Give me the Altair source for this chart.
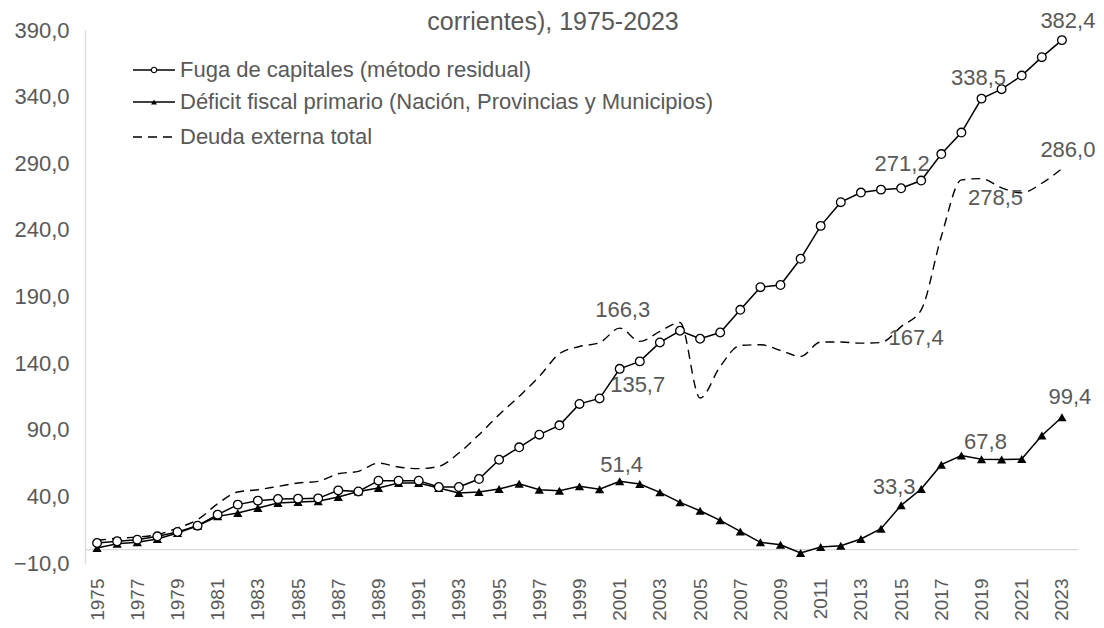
import altair as alt
import pandas as pd

YEARS = list(range(1975, 2024))

FUGA = [5.0, 6.3, 7.5, 10.0, 13.3, 18.0, 26.3, 33.8, 36.8, 38.0,
        38.3, 38.5, 44.5, 43.7, 51.8, 51.8, 51.8, 47.0, 47.0, 53.0,
        67.5, 76.8, 86.3, 93.3, 109.4, 113.5, 135.7, 141.3, 155.5, 164.3,
        158.3, 163.0, 180.0, 197.0, 198.6, 218.3, 243.0, 260.8, 268.0, 270.2,
        271.2, 277.0, 296.9, 313.0, 338.5, 345.6, 355.8, 369.6, 382.4]

DEFICIT = [1.3, 4.5, 5.5, 8.0, 12.5, 18.0, 25.0, 27.5, 31.3, 35.0,
           35.8, 36.3, 39.5, 43.7, 46.3, 50.0, 50.0, 46.3, 42.5, 43.3,
           45.5, 49.5, 45.0, 44.3, 47.5, 45.3, 51.4, 49.3, 43.0, 35.5,
           29.2, 22.0, 13.7, 5.5, 3.7, -2.5, 2.0, 3.0, 8.0, 15.7,
           33.3, 45.5, 63.8, 70.7, 67.8, 67.6, 68.0, 85.7, 99.4]

DEUDA = [7.0, 8.5, 9.5, 11.3, 16.3, 22.5, 34.5, 43.3, 45.0, 47.5,
         50.0, 51.3, 57.0, 58.8, 65.0, 62.0, 60.8, 62.5, 72.5, 86.3,
         101.3, 115.0, 130.0, 147.0, 152.5, 155.3, 166.3, 156.3, 163.8, 170.5,
         113.8, 137.5, 153.3, 153.8, 149.5, 145.0, 155.8, 155.8, 155.0, 155.5,
         167.4, 180.0, 235.0, 277.5, 278.5, 271.5, 267.8, 275.0, 286.0]

SERIES = ["Fuga de capitales (método residual)",
          "Déficit fiscal primario (Nación, Provincias y Municipios)",
          "Deuda externa total"]

Y_TICKS = [-10, 40, 90, 140, 190, 240, 290, 340, 390]
X_TICKS = list(range(1975, 2024, 2))
TITLE_TEXT = "corrientes), 1975-2023"

# labelled points: (series index, year)
LABELED = [(0, 2001), (0, 2015), (0, 2019), (0, 2023),
           (1, 2001), (1, 2015), (1, 2019), (1, 2023),
           (2, 2001), (2, 2015), (2, 2019), (2, 2023)]
# label offsets in pixels (dx, dy)
OFFSETS = {(0, 2001): (18, 16), (0, 2015): (1, -24), (0, 2019): (-3, -21), (0, 2023): (6, -19),
           (1, 2001): (2, -16), (1, 2015): (-7, -18), (1, 2019): (4, -17), (1, 2023): (8, -20),
           (2, 2001): (3, -18), (2, 2015): (15, 11), (2, 2019): (14, 19), (2, 2023): (6, -19)}

VALUES = [FUGA, DEFICIT, DEUDA]
GRAY = "#595959"
AXIS_GRAY = "#d9d9d9"
FONT = "Liberation Sans"

df = pd.DataFrame({
    "year": YEARS * 3,
    "value": FUGA + DEFICIT + DEUDA,
    "series": [s for s in SERIES for _ in YEARS],
})

xs = alt.Scale(domain=[1974.4, 2023.8], nice=False, zero=False)
ys = alt.Scale(domain=[-10, 390], nice=False, zero=False)

x_axis = alt.Axis(values=X_TICKS, format="d", labelAngle=-90, labelFontSize=19,
                  labelColor=GRAY, labelFont=FONT, domain=False, ticks=False, tickSize=0,
                  grid=False, labelPadding=15, title=None, labelOverlap=False,
                  labelFlush=False)
y_axis = alt.Axis(values=Y_TICKS,
                  labelExpr="replace(format(datum.value, '.1f'), '.', ',')",
                  domainColor=AXIS_GRAY, domainWidth=1.3, ticks=False, tickSize=0,
                  grid=False, labelFontSize=22, labelColor=GRAY, labelFont=FONT,
                  labelPadding=16, title=None)

X = alt.X("year:Q", scale=xs, axis=x_axis)
Y = alt.Y("value:Q", scale=ys, axis=y_axis)

layers = []

zero = alt.Chart(pd.DataFrame({"value": [0]})).mark_rule(
    color=AXIS_GRAY, strokeWidth=1.3).encode(y=Y)
layers.append(zero)


def sub(i):
    return df[df["series"] == SERIES[i]]


deuda_line = alt.Chart(sub(2)).mark_line(
    color="black", strokeWidth=1.4, strokeDash=[9, 6], interpolate="monotone"
).encode(x=X, y=Y)
deficit_line = alt.Chart(sub(1)).mark_line(color="black", strokeWidth=1.5).encode(x=X, y=Y)
deficit_pts = alt.Chart(sub(1)).mark_point(
    shape="triangle-up", filled=True, color="black", size=85, opacity=1
).encode(x=X, y=Y)
fuga_line = alt.Chart(sub(0)).mark_line(color="black", strokeWidth=1.5).encode(x=X, y=Y)
fuga_pts = alt.Chart(sub(0)).mark_point(
    shape="circle", filled=True, fill="white", stroke="black", strokeWidth=1.3,
    size=75, opacity=1
).encode(x=X, y=Y)
layers += [deuda_line, deficit_line, deficit_pts, fuga_line, fuga_pts]

# data labels
for (si, yr) in LABELED:
    v = VALUES[si][YEARS.index(yr)]
    dx, dy = OFFSETS[(si, yr)]
    ldf = pd.DataFrame({"year": [yr], "value": [v],
                        "label": [f"{v:.1f}".replace(".", ",")]})
    layers.append(alt.Chart(ldf).mark_text(
        fontSize=22, color=GRAY, font=FONT, align="center", baseline="middle",
        dx=dx, dy=dy).encode(x=X, y=Y, text="label:N"))

# legend (manual)
LEG_Y = [40, 72, 107]
for i, name in enumerate(SERIES):
    ld = pd.DataFrame({"n": [name]})
    rule_kw = dict(color="black", strokeWidth=1.4)
    if i == 2:
        rule_kw["strokeDash"] = [9, 6]
    layers.append(alt.Chart(ld).mark_rule(**rule_kw).encode(
        x=alt.value(48), x2=alt.value(90), y=alt.value(LEG_Y[i])))
    if i == 0:
        layers.append(alt.Chart(ld).mark_point(
            shape="circle", filled=True, fill="white", stroke="black", strokeWidth=1.2,
            size=30, opacity=1).encode(x=alt.value(69), y=alt.value(LEG_Y[i])))
    elif i == 1:
        layers.append(alt.Chart(ld).mark_point(
            shape="triangle-up", filled=True, color="black", size=35, opacity=1
        ).encode(x=alt.value(69), y=alt.value(LEG_Y[i])))
    layers.append(alt.Chart(ld).mark_text(
        align="left", baseline="middle", fontSize=22, color=GRAY, font=FONT
    ).encode(x=alt.value(95), y=alt.value(LEG_Y[i]), text="n:N"))

# title (partially visible second line)
layers.append(alt.Chart(pd.DataFrame({"t": [TITLE_TEXT]})).mark_text(
    align="center", baseline="middle", fontSize=25, color=GRAY, font=FONT
).encode(x=alt.value(468), y=alt.value(-8), text="t:N"))

chart = alt.layer(*layers).properties(
    width=993, height=533,
    padding={"left": 77, "top": 22, "right": 18, "bottom": 57},
    autosize=alt.AutoSizeParams(type="none"),
).configure_view(stroke=None)

chart.save("out.html", embed_options={"renderer": "svg", "actions": False})
